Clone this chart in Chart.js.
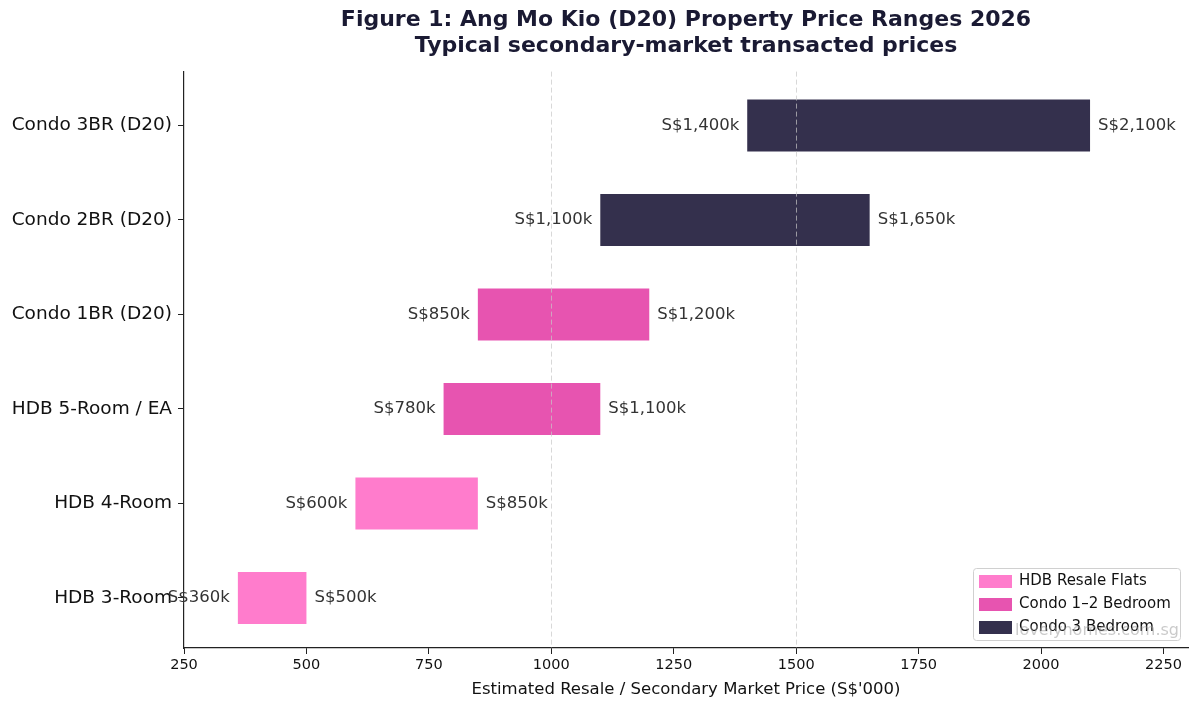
<!DOCTYPE html>
<html>
<head>
<meta charset="utf-8">
<script src="https://cdn.jsdelivr.net/npm/chart.js@4/dist/chart.umd.min.js"></script>
<style>
  html, body { margin: 0; padding: 0; background: #fff; }
  #wrap { width: 1200px; height: 711px; }
</style>
</head>
<body>
<div id="wrap"><canvas id="rangeChart" width="1200" height="711"></canvas></div>
<script>
// Chart data
const categories = ['Condo 3BR (D20)', 'Condo 2BR (D20)', 'Condo 1BR (D20)', 'HDB 5-Room / EA', 'HDB 4-Room', 'HDB 3-Room'];
const lowPrices = [1400, 1100, 850, 780, 600, 360];
const highPrices = [2100, 1650, 1200, 1100, 850, 500];
const groupOf = [2, 2, 1, 1, 0, 0];
const legendLabels = ['HDB Resale Flats', 'Condo 1–2 Bedroom', 'Condo 3 Bedroom'];
const groupColors = ['rgba(255,110,199,0.9)', 'rgba(228,65,167,0.9)', 'rgba(30,26,58,0.9)'];
const xTicks = [250, 500, 750, 1000, 1250, 1500, 1750, 2000, 2250];
const refLines = [1000, 1500];

const FONT = "'DejaVu Sans', sans-serif";

function fmtPrice(v) {
  return 'S$' + v.toLocaleString('en-US') + 'k';
}

// dashed reference lines, drawn over the bars
const refLinePlugin = {
  id: 'refLines',
  afterDatasetsDraw(chart) {
    const { ctx, chartArea, scales } = chart;
    ctx.save();
    ctx.strokeStyle = 'rgba(200,200,200,0.7)';
    ctx.lineWidth = 1;
    ctx.setLineDash([5, 3]);
    refLines.forEach(v => {
      const x = Math.round(scales.x.getPixelForValue(v)) + 0.5;
      ctx.beginPath();
      ctx.moveTo(x, chartArea.top);
      ctx.lineTo(x, chartArea.bottom);
      ctx.stroke();
    });
    ctx.restore();
  }
};

// low / high labels at the ends of each bar
const endLabelPlugin = {
  id: 'endLabels',
  afterDatasetsDraw(chart) {
    const { ctx, scales } = chart;
    ctx.save();
    ctx.font = '16.5px ' + FONT;
    ctx.fillStyle = '#333333';
    ctx.textBaseline = 'middle';
    categories.forEach((c, i) => {
      const y = scales.y.getPixelForValue(i);
      ctx.textAlign = 'right';
      ctx.fillText(fmtPrice(lowPrices[i]), scales.x.getPixelForValue(lowPrices[i]) - 8, y);
      ctx.textAlign = 'left';
      ctx.fillText(fmtPrice(highPrices[i]), scales.x.getPixelForValue(highPrices[i]) + 8, y);
    });
    ctx.restore();
  }
};

// legend box in the lower right corner + watermark
const cornerLegendPlugin = {
  id: 'cornerLegend',
  afterDraw(chart) {
    const { ctx, chartArea } = chart;
    const w = 207, h = 72;
    const x0 = chartArea.right - 8 - w;
    const y0 = chartArea.bottom - 8 - h;
    ctx.save();
    ctx.fillStyle = 'rgba(255,255,255,0.8)';
    ctx.strokeStyle = '#d0d0d0';
    ctx.lineWidth = 1;
    ctx.beginPath();
    ctx.roundRect(x0 + 0.5, y0 + 0.5, w, h, 3);
    ctx.fill();
    ctx.stroke();
    ctx.font = '15px ' + FONT;
    ctx.textBaseline = 'middle';
    ctx.textAlign = 'left';
    legendLabels.forEach((lab, i) => {
      const cy = y0 + 13 + i * 23;
      ctx.fillStyle = groupColors[i];
      ctx.fillRect(x0 + 6, cy - 6, 33, 13);
      ctx.fillStyle = '#111111';
      ctx.fillText(lab, x0 + 46, cy);
    });
    ctx.font = '16px ' + FONT;
    ctx.fillStyle = 'rgba(150,150,150,0.5)';
    ctx.textAlign = 'right';
    ctx.fillText('lovelyhomes.com.sg', chartArea.right - 9, chartArea.bottom - 17);
    ctx.restore();
  }
};

function initializeChart() {
  const ctx = document.getElementById('rangeChart').getContext('2d');
  window._rangeChart = new Chart(ctx, {
    type: 'bar',
    data: {
      datasets: [{
        data: categories.map((c, i) => ({ y: i, x: [lowPrices[i], highPrices[i]] })),
        backgroundColor: groupOf.map(g => groupColors[g]),
        borderWidth: 0,
        borderSkipped: false,
        barPercentage: 0.55,
        categoryPercentage: 1.0
      }]
    },
    options: {
      indexAxis: 'y',
      responsive: false,
      animation: false,
      layout: { padding: { top: 0, right: 12, left: 0, bottom: 11 } },
      plugins: {
        legend: { display: false },
        tooltip: { enabled: false },
        title: {
          display: true,
          fullSize: false,
          text: ['Figure 1: Ang Mo Kio (D20) Property Price Ranges 2026', 'Typical secondary-market transacted prices'],
          color: '#1a1a33',
          font: { family: FONT, size: 22, weight: 'bold', lineHeight: 1.15 },
          padding: { top: 8, bottom: 13 }
        }
      },
      scales: {
        x: {
          type: 'linear',
          min: 250,
          max: 2300,
          afterBuildTicks(scale) {
            scale.ticks = xTicks.map(v => ({ value: v }));
          },
          afterFit(scale) { scale.height = 52; },
          ticks: {
            color: '#111111',
            font: { family: FONT, size: 14.5 },
            padding: 3,
            maxRotation: 0,
            autoSkip: false,
            callback: v => String(v)
          },
          grid: { drawOnChartArea: false, tickLength: 6, color: '#222222' },
          border: { color: '#222222', width: 1.2 },
          title: {
            display: true,
            text: "Estimated Resale / Secondary Market Price (S$'000)",
            color: '#111111',
            font: { family: FONT, size: 16.5 },
            padding: { top: 2, bottom: 0 }
          }
        },
        y: {
          type: 'linear',
          min: -0.57,
          max: 5.53,
          reverse: true,
          offset: false,
          afterBuildTicks(scale) {
            scale.ticks = categories.map((c, i) => ({ value: i }));
          },
          afterFit(scale) { scale.width = 184; },
          ticks: {
            color: '#111111',
            font: { family: FONT, size: 18.5 },
            padding: 6,
            autoSkip: false,
            callback: v => categories[v]
          },
          grid: { drawOnChartArea: false, tickLength: 6, color: '#222222', offset: false },
          border: { color: '#222222', width: 1.2 }
        }
      }
    },
    plugins: [refLinePlugin, endLabelPlugin, cornerLegendPlugin]
  });
}

initializeChart();
</script>
</body>
</html>
